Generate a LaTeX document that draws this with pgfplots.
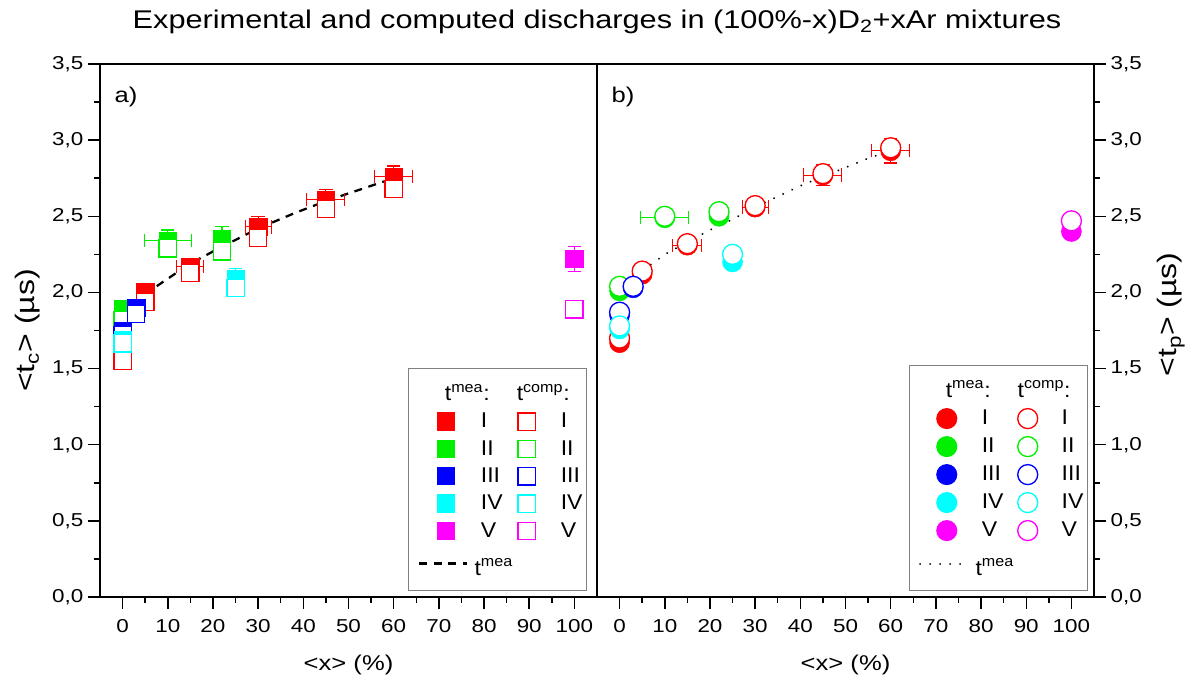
\documentclass[border=0pt]{standalone}
\usepackage{fontspec}
\setmainfont[FakeStretch=1.2]{Liberation Sans}
\newfontfamily\legfont[FakeStretch=1.08]{Liberation Sans}
\usepackage{pgfplots}
\pgfplotsset{compat=1.18}
\definecolor{cR}{RGB}{255,0,0}
\definecolor{cG}{RGB}{0,240,0}
\definecolor{cB}{RGB}{0,0,255}
\definecolor{cC}{RGB}{0,255,255}
\definecolor{cM}{RGB}{255,0,255}
\pgfplotsset{
  base/.style={
    scale only axis, width=372.75pt, height=399.75pt,
    xmin=-5, xmax=105, ymin=0, ymax=3.5,
    xtick={0,10,...,100}, ytick={0,0.5,1,1.5,2,2.5,3,3.5},
    minor x tick num=1, minor y tick num=1,
    tick align=outside, xtick pos=left,
    major tick length=9pt, minor tick length=4.5pt,
    major tick style={line width=1.1pt, black},
    minor tick style={line width=1.1pt, black},
    axis line style={line width=1.1pt},
    tick label style={font=\fontsize{14}{16}\selectfont},
    xticklabel style={yshift=-4pt},
    /pgf/number format/assume math mode=true,
    yticklabel style={/pgf/number format/.cd, fixed, fixed zerofill, precision=1, use comma},
    xlabel={<x> (\%)},
    xlabel style={font=\fontsize{16}{18}\selectfont, at={(axis description cs:0.5,-0.128)}, anchor=center},
    ylabel style={font=\fontsize{20}{22}\selectfont, rotate=0, anchor=center},
    legend style={draw=gray, line width=0.8pt, fill=white, inner xsep=1pt, inner ysep=9pt,
      font=\legfont\fontsize{16}{18}\selectfont, anchor=south east,
      nodes={inner xsep=2pt, inner ysep=1pt},
      /tikz/every odd column/.append style={column sep=7.5pt},
      /tikz/every even column/.append style={column sep=8.1pt},
      row sep=6pt},
    legend columns=2, legend cell align=left,
  },
  legmark/.style={legend image code/.code={\path[draw=none, fill=none] (-8pt,-7pt) rectangle (16pt,7pt); \draw[##1] plot coordinates {(0pt,0pt)};}},
  leglong/.style={legend image code/.code={\path[draw=none, fill=none] (-27pt,0pt) -- (16pt,0pt); \draw[##1] (-20pt,0pt) -- (16pt,0pt);}},
  mea/.style={only marks, mark size=6.5pt, mark=square*, #1, mark options={solid, fill=#1, draw=#1}},
  comp/.style={only marks, mark size=6.5pt, mark=square*, #1, mark options={solid, fill=white, draw=#1, line width=1pt}},
  meac/.style={only marks, mark size=7.5pt, mark=*, #1, mark options={solid, fill=#1, draw=#1}},
  compc/.style={only marks, mark size=7.5pt, mark=*, #1, mark options={solid, fill=white, draw=#1, line width=1pt}},
  eb/.style={error bars/x dir=both, error bars/x explicit, error bars/y dir=both, error bars/y explicit,
    error bars/error bar style={line width=0.8pt, #1},
    error bars/error mark options={rotate=90, line width=0.8pt, mark size=5pt, #1}},
}
\newcommand\hdr[2]{\hspace*{#1}\rule[-8pt]{0pt}{22pt}#2}
\newcommand\lastentry[1]{\hspace*{-6.5pt}\makebox[0pt][l]{\rule{0pt}{19pt}#1}}
\begin{document}
\begin{tikzpicture}
\useasboundingbox (-75pt,-68.25pt) rectangle (819.75pt,447.75pt);
\node[font=\fontsize{19.2}{22}\selectfont] at (372.75pt,431.25pt) {Experimental and computed discharges in (100\%-x)D\textsubscript{2}+xAr mixtures};

% ---------------- panel a ----------------
\begin{axis}[base, at={(0pt,0pt)}, anchor=south west, ytick pos=left,
  ylabel={<t\textsubscript{c}> (µs)},
  ylabel style={at={(axis description cs:-0.145,0.5)}, rotate=0},
  legend style={at={(0.98,0.011)}}]
\addplot[black, line width=1.7pt, dash pattern=on 6pt off 5pt, forget plot] coordinates {
 (0,1.86) (3,1.93) (7,2.03) (10,2.09) (15,2.19) (22,2.30) (30,2.42) (38,2.52) (45,2.60) (52,2.67) (60,2.75)};
\addplot[forget plot, mea=cR, eb=cR] coordinates {
 (0,1.60) +- (0,0) (5,2.00) +- (0,0.05) (15,2.17) +- (3.0,0.04) (30,2.43) +- (2.9,0.07) (45,2.61) +- (4.2,0.065) (60,2.76) +- (4.2,0.07)};
\addplot[comp=cR, forget plot] coordinates {(0,1.55) (5,1.94) (15,2.13) (30,2.36) (45,2.55) (60,2.68)};
\addplot[forget plot, mea=cG, eb=cG] coordinates {(0,1.89) +- (0,0) (10,2.34) +- (5.2,0.07) (22,2.35) +- (0,0.08)};
\addplot[comp=cG, forget plot] coordinates {(0,1.82) (10,2.29) (22,2.27)};
\addplot[mea=cB, forget plot] coordinates {(0,1.75) (3,1.90)};
\addplot[comp=cB, forget plot] coordinates {(0,1.72) (3,1.86)};
\addplot[forget plot, mea=cC, eb=cC] coordinates {(0,1.69) +- (0,0) (25,2.09) +- (0,0.07)};
\addplot[comp=cC, forget plot] coordinates {(0,1.665) (25,2.03)};
\addplot[forget plot, mea=cM, eb=cM] coordinates {(100,2.22) +- (0,0.08)};
\addplot[comp=cM, forget plot] coordinates {(100,1.89)};
\node[anchor=west, font=\fontsize{16}{18}\selectfont] at (rel axis cs:0.02,0.938) {a)};
% legend
\addlegendimage{empty legend}\addlegendentry{\hdr{-27pt}{t\textsuperscript{mea}:}}
\addlegendimage{empty legend}\addlegendentry{\hdr{-33pt}{t\textsuperscript{comp}:}}
\addlegendimage{legmark, mea=cR}\addlegendentry{I}
\addlegendimage{legmark, comp=cR}\addlegendentry{I}
\addlegendimage{legmark, mea=cG}\addlegendentry{II}
\addlegendimage{legmark, comp=cG}\addlegendentry{II}
\addlegendimage{legmark, mea=cB}\addlegendentry{III}
\addlegendimage{legmark, comp=cB}\addlegendentry{III}
\addlegendimage{legmark, mea=cC}\addlegendentry{IV}
\addlegendimage{legmark, comp=cC}\addlegendentry{IV}
\addlegendimage{legmark, mea=cM}\addlegendentry{V}
\addlegendimage{legmark, comp=cM}\addlegendentry{V}
\addlegendimage{leglong, black, line width=1.7pt, dash pattern=on 6pt off 5pt}
\addlegendentry{\lastentry{t\textsuperscript{mea}}}
\end{axis}

% ---------------- panel b ----------------
\begin{axis}[base, at={(372.75pt,0pt)}, anchor=south west, ytick pos=right, yticklabel pos=right,
  ylabel={<t\textsubscript{p}> (µs)},
  ylabel style={at={(axis description cs:1.155,0.53)}, rotate=0},
  legend style={at={(0.988,0.011)}}]
\addplot[black, line width=1.6pt, dash pattern=on 0.01pt off 7.5pt, line cap=round, forget plot] coordinates {
 (0,2.02) (2,2.08) (5,2.14) (10,2.25) (15,2.33) (20,2.41) (25,2.48) (30,2.56) (35,2.63) (40,2.70) (45,2.76) (50,2.82) (55,2.88) (60,2.93)};
\addplot[forget plot, meac=cR, eb=cR] coordinates {
 (0,1.67) +- (0,0) (5,2.12) +- (0,0) (15,2.31) +- (3.2,0) (30,2.56) +- (2.9,0) (45,2.77) +- (4.2,0.07) (60,2.93) +- (4.2,0.08)};
\addplot[compc=cR, forget plot] coordinates {(0,1.70) (5,2.14) (15,2.32) (30,2.57) (45,2.78) (60,2.95)};
\addplot[forget plot, meac=cG, eb=cG] coordinates {(0,2.01) +- (0,0) (10,2.49) +- (5.3,0) (22,2.50) +- (0,0)};
\addplot[compc=cG, forget plot] coordinates {(0,2.04) (10,2.50) (22,2.53)};
\addplot[meac=cB, forget plot] coordinates {(0,1.85) (3,2.03)};
\addplot[compc=cB, forget plot] coordinates {(0,1.87) (3,2.04)};
\addplot[meac=cC, forget plot] coordinates {(0,1.76) (25,2.20)};
\addplot[compc=cC, forget plot] coordinates {(0,1.78) (25,2.25)};
\addplot[meac=cM, forget plot] coordinates {(100,2.40)};
\addplot[compc=cM, forget plot] coordinates {(100,2.47)};
\node[anchor=west, font=\fontsize{16}{18}\selectfont] at (rel axis cs:0.02,0.938) {b)};
\addlegendimage{empty legend}\addlegendentry{\hdr{-27pt}{t\textsuperscript{mea}:}}
\addlegendimage{empty legend}\addlegendentry{\hdr{-33pt}{t\textsuperscript{comp}:}}
\addlegendimage{legmark, meac=cR}\addlegendentry{I}
\addlegendimage{legmark, compc=cR}\addlegendentry{I}
\addlegendimage{legmark, meac=cG}\addlegendentry{II}
\addlegendimage{legmark, compc=cG}\addlegendentry{II}
\addlegendimage{legmark, meac=cB}\addlegendentry{III}
\addlegendimage{legmark, compc=cB}\addlegendentry{III}
\addlegendimage{legmark, meac=cC}\addlegendentry{IV}
\addlegendimage{legmark, compc=cC}\addlegendentry{IV}
\addlegendimage{legmark, meac=cM}\addlegendentry{V}
\addlegendimage{legmark, compc=cM}\addlegendentry{V}
\addlegendimage{leglong, black, line width=1.6pt, dash pattern=on 0.01pt off 7.5pt, line cap=round}
\addlegendentry{\lastentry{t\textsuperscript{mea}}}
\end{axis}
\end{tikzpicture}
\end{document}
